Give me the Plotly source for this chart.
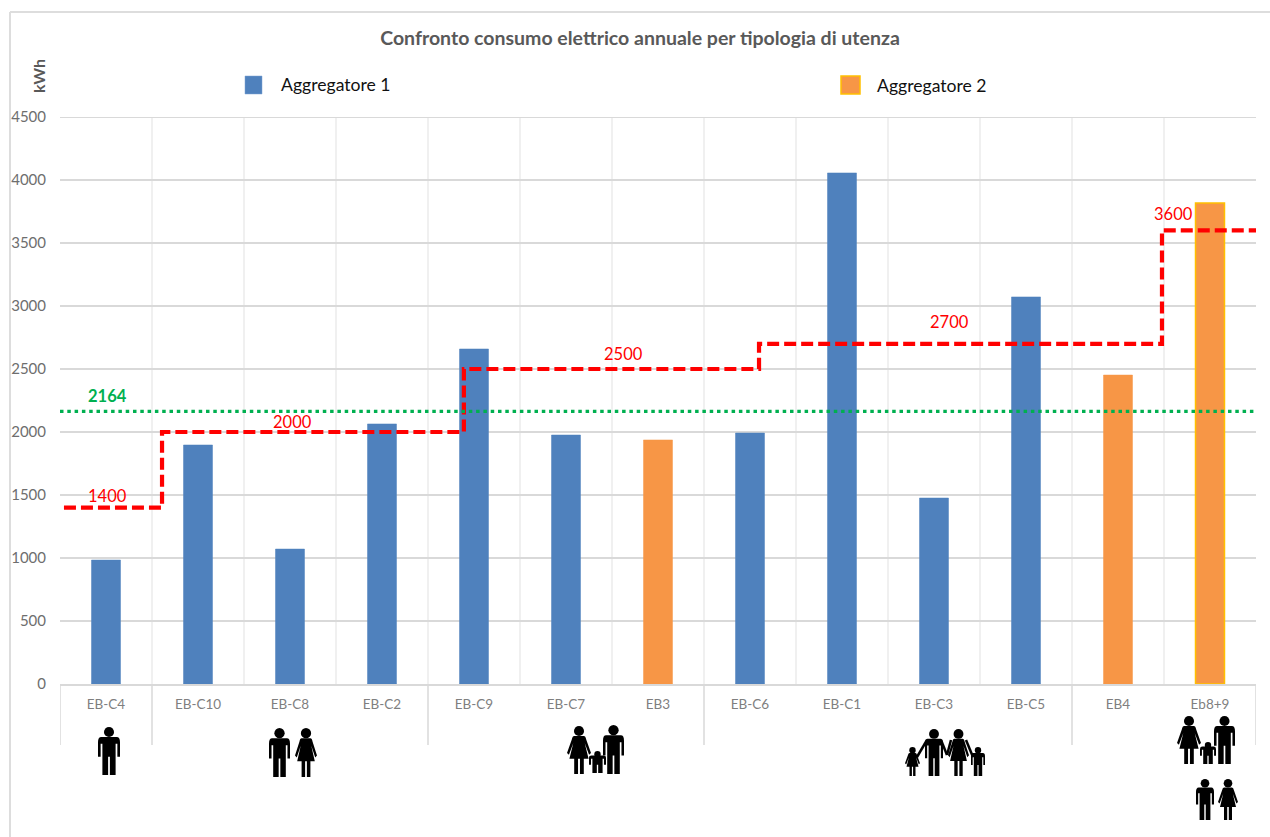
import plotly.graph_objects as go

# Consumption per household
categorie = ["EB-C4", "EB-C10", "EB-C8", "EB-C2", "EB-C9", "EB-C7", "EB3",
             "EB-C6", "EB-C1", "EB-C3", "EB-C5", "EB4", "Eb8+9"]
consumi_kwh = [984, 1897, 1071, 2064, 2659, 1976, 1937, 1992, 4056, 1476, 3072, 2452, 3818]
aggregatore = [1, 1, 1, 1, 1, 1, 2, 1, 1, 1, 1, 2, 2]

# Reference consumption per household type
livelli_rif = [1400, 2000, 2500, 2700, 3600]
bordi_rif = [-0.457, 0.609, 3.89, 7.098, 11.478, 12.52]
posizioni_etichette_rif = [0.02, 2.03, 5.63, 9.17, 11.6]
scarti_etichette_rif = [0, -2, 3, 10, 4]
media_kwh = 2164
separatori_gruppi = [-0.5, 0.5, 3.5, 6.5, 10.5, 12.5]

BLU, ARANCIO, GIALLO = "#4F81BD", "#F79646", "#FFC000"
GRIGIO_TESTO = "#6E6E6E"
W, H = 1270, 837
L, R, T, B = 60, 1256, 117, 684
Y_MAX = 4500


def fx(px):
    return (px - L) / (R - L)


def fy(py):
    return (B - py) / (B - T)


def poligono(cx, top, w, h, punti):
    parti = []
    for cmd, *coord in punti:
        xy = [f"{fx(cx + coord[i] * w):.5f},{fy(top + coord[i + 1] * h):.5f}"
              for i in range(0, len(coord), 2)]
        parti.append(cmd + " " + " ".join(xy))
    return " ".join(parti) + " Z"


UOMO = [("M", -.35, .21), ("L", .35, .21), ("Q", .5, .21, .5, .32), ("L", .5, .62), ("L", .38, .62),
        ("L", .38, .35), ("L", .30, .35), ("L", .30, 1), ("L", .04, 1), ("L", .04, .62), ("L", -.04, .62),
        ("L", -.04, 1), ("L", -.30, 1), ("L", -.30, .35), ("L", -.38, .35), ("L", -.38, .62),
        ("L", -.5, .62), ("L", -.5, .32), ("Q", -.5, .21, -.35, .21)]
DONNA = [("M", -.2, .21), ("L", .2, .21), ("Q", .27, .21, .3, .28), ("L", .5, .56), ("L", .42, .6),
         ("L", .24, .36), ("L", .40, .68), ("L", .2, .68), ("L", .2, 1), ("L", .04, 1), ("L", .04, .68),
         ("L", -.04, .68), ("L", -.04, 1), ("L", -.2, 1), ("L", -.2, .68), ("L", -.4, .68),
         ("L", -.24, .36), ("L", -.42, .6), ("L", -.5, .56), ("L", -.3, .28), ("Q", -.27, .21, -.2, .21)]


def sagoma(tipo, x0, x1, y0, y1):
    """Black pictogram of a person inside the pixel box (x0, x1, y0, y1)."""
    cx, w, h = (x0 + x1) / 2, x1 - x0, y1 - y0
    r = min(max(3.2, h * 0.105), 5.2)
    testa = dict(type="circle", xref="paper", yref="paper", fillcolor="black", line_width=0,
                 x0=fx(cx - r), x1=fx(cx + r), y0=fy(y0 + 2 * r), y1=fy(y0))
    corpo = dict(type="path", xref="paper", yref="paper", fillcolor="black", line_width=0,
                 path=poligono(cx, y0, w, h, UOMO if tipo == "u" else DONNA))
    return [testa, corpo]


fig = go.Figure()

# Columns, one trace per aggregator
for n, colore, bordo in [(1, BLU, BLU), (2, ARANCIO, ARANCIO)]:
    idx = [i for i, a in enumerate(aggregatore) if a == n]
    fig.add_bar(x=idx, y=[consumi_kwh[i] for i in idx], width=0.315, name=f"Aggregatore {n}",
                marker=dict(color=colore, line=dict(color=bordo, width=0.5)), showlegend=False)
# The combined Eb8+9 column carries a yellow outline
fig.data[1].marker.line = dict(color=[ARANCIO, ARANCIO, GIALLO], width=[0.5, 0.5, 1.5])

# Stepped reference line
xs, ys = [], []
for k, livello in enumerate(livelli_rif):
    xs += [bordi_rif[k], bordi_rif[k + 1]]
    ys += [livello, livello]
fig.add_scatter(x=xs, y=ys, mode="lines", cliponaxis=False, showlegend=False, name="Riferimento",
                line=dict(color="#FF0000", width=4.2, dash="12px,5px"))

# Dotted mean line
fig.add_scatter(x=[-0.5, 12.5], y=[media_kwh, media_kwh], mode="lines", showlegend=False, name="Media",
                line=dict(color="#00B050", width=3.4, dash="3.5px,3.8px"))

for pos, livello, scarto in zip(posizioni_etichette_rif, livelli_rif, scarti_etichette_rif):
    fig.add_annotation(x=pos, y=livello, text=str(livello), showarrow=False, yanchor="bottom", yshift=scarto,
                       font=dict(family="Lato", size=16.5, color="#FF0000"))
fig.add_annotation(x=0.02, y=media_kwh, text=f"<b>{media_kwh}</b>", showarrow=False, yanchor="bottom", yshift=3,
                   font=dict(family="Lato", size=16.5, color="#00B050"))

shapes = []

# Chart frame (left and top edges)
for x0, y0, x1, y1 in [(10, 12, 10, 837), (10, 12, 1270, 12)]:
    shapes.append(dict(type="line", xref="paper", yref="paper", x0=fx(x0), x1=fx(x1), y0=fy(y0), y1=fy(y1),
                       line=dict(color="#DDDDDD", width=2)))

# Upper edge of the value scale
shapes.append(dict(type="line", xref="paper", yref="y", x0=0, x1=1, y0=Y_MAX, y1=Y_MAX,
                   line=dict(color="#D9D9D9", width=2)))

# Group separators under the category axis
for s in separatori_gruppi:
    shapes.append(dict(type="line", xref="x", yref="paper", x0=s, x1=s, y0=0, y1=fy(745),
                       line=dict(color="#D9D9D9", width=1.5)))

# Household pictograms
persone = [
    ("u", 98, 120, 727, 775),
    ("u", 269, 290, 728, 777), ("d", 295, 317, 728, 777),
    ("d", 567, 591, 726, 774), ("u", 589, 606, 751, 773), ("u", 603, 624, 725, 774),
    ("d", 905, 920, 747, 776), ("u", 925, 943, 729, 776), ("d", 948, 969, 729, 776), ("u", 971, 985, 747, 776),
    ("d", 1177, 1201, 716, 764), ("u", 1200, 1216, 742, 764), ("u", 1214, 1235, 716, 764),
    ("u", 1196, 1214, 779, 820), ("d", 1218, 1238, 779, 820),
]
for p in persone:
    shapes += sagoma(*p)
for (x0, y0), (x1, y1) in [((927, 740), (917, 757)), ((941, 740), (947, 755)),
                           ((951, 740), (947, 755)), ((966, 740), (973, 757))]:
    shapes.append(dict(type="line", xref="paper", yref="paper", x0=fx(x0), x1=fx(x1), y0=fy(y0), y1=fy(y1),
                       line=dict(color="black", width=2.5)))

# Legend swatches
shapes.append(dict(type="rect", xref="paper", yref="paper", x0=fx(245), x1=fx(262), y0=fy(94), y1=fy(76),
                   fillcolor=BLU, line=dict(color="#7FA3D0", width=0.5)))
shapes.append(dict(type="rect", xref="paper", yref="paper", x0=fx(841), x1=fx(860), y0=fy(94), y1=fy(76),
                   fillcolor=ARANCIO, line=dict(color=GIALLO, width=1.5)))

# Unit of the value axis, carried by a shape so it cannot widen the left margin
shapes.append(dict(type="rect", xref="paper", yref="paper", x0=fx(28), x1=fx(48), y0=fy(96), y1=fy(56),
                   line_width=0, fillcolor="rgba(0,0,0,0)",
                   label=dict(text="kWh", textposition="middle center", textangle=-90,
                              font=dict(family="Lato", size=16, color="#595959", weight="bold"))))

# Legend texts
for testo, px_, py_ in [("Aggregatore 1", 335.5, 84), ("Aggregatore 2", 932, 85)]:
    fig.add_annotation(xref="paper", yref="paper", x=fx(px_), y=fy(py_), text=testo, showarrow=False,
                       xanchor="center", yanchor="middle",
                       font=dict(family="Lato", size=17.6, color="#111111"))

fig.update_layout(
    width=W, height=H, autosize=False,
    margin=dict(l=L, r=W - R, t=T, b=H - B, pad=0),
    paper_bgcolor="white", plot_bgcolor="white",
    font=dict(family="Lato"),
    bargap=0.68, barmode="overlay", shapes=shapes,
    title=dict(text="<b>Confronto consumo elettrico annuale per tipologia di utenza</b>",
               xref="container", yref="container", x=640 / W, y=1 - 38 / H,
               xanchor="center", yanchor="middle",
               font=dict(family="Lato", size=19.5, color="#595959")),
)
fig.update_xaxes(
    range=[-0.5, 12.5], tickmode="array", tickvals=list(range(len(categorie))), ticktext=categorie,
    tickfont=dict(family="Lato", size=13.5, color="#7F7F7F"), ticks="outside", ticklen=7, tickcolor="rgba(0,0,0,0)",
    showgrid=False, showline=True, linecolor="#D9D9D9", linewidth=2, zeroline=False,
    minor=dict(tickmode="array", tickvals=[i - 0.5 for i in range(14)], showgrid=True, gridcolor="#F0F0F0", gridwidth=2),
)
fig.update_yaxes(
    range=[0, Y_MAX], tickmode="linear", tick0=0, dtick=500,
    tickfont=dict(family="Lato", size=15, color=GRIGIO_TESTO), ticks="outside", ticklen=10, tickcolor="rgba(0,0,0,0)",
    showgrid=True, gridcolor="#D9D9D9", gridwidth=2, zeroline=False, showline=False,
)

fig.write_html("out.html")
